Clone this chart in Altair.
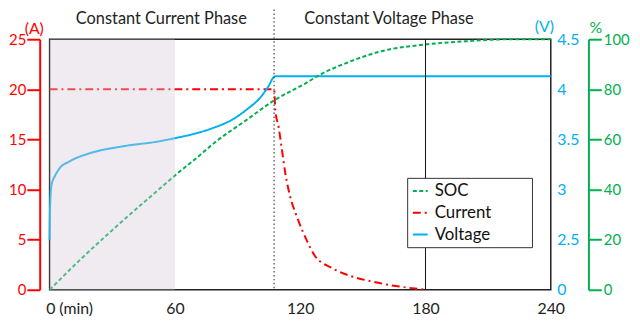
import altair as alt
import pandas as pd

# ---------------- data ----------------
t_current = [0, 107.5, 108.1, 109.7, 111.3, 112.9, 115.2, 118.4, 123.2, 127.0, 135, 143.6, 155, 164, 172, 180]
current = [20, 20, 17.9, 16.2, 13.9, 11.6, 9.3, 7.3, 4.9, 3.4, 2.2, 1.41, 0.8, 0.43, 0.2, 0]

t_voltage = [0, 0.15, 0.4, 0.8, 1.5, 2.4, 4.7, 9.5, 18.9, 34.7, 52.1, 60.6, 70, 79, 86.8, 94.8, 101, 104.5, 108, 240]
voltage = [2.5, 2.75, 2.92, 3.03, 3.09, 3.13, 3.21, 3.28, 3.36, 3.43, 3.48, 3.515, 3.56, 3.62, 3.69, 3.805, 3.92, 4.02, 4.13, 4.13]

t_soc = [0, 15.8, 30, 52.1, 60.6, 69.5, 80.5, 93, 107.4, 123.2, 129, 142.1, 159.4, 180, 200, 222, 240]
soc = [0, 12.9, 23.8, 39.9, 46.0, 52.0, 59.7, 67.0, 75.5, 82.7, 85.6, 90.5, 95.3, 97.9, 99.2, 100, 100]

series = ["SOC", "Current", "Voltage"]
colors = ["#00B050", "#FF0000", "#00B0F0"]
dashes = [[4, 2.5], [8, 4, 2, 4], [1, 0]]

x_ticks = [0, 60, 120, 180, 240]
current_ticks = [0, 5, 10, 15, 20, 25]
voltage_ticks = [2, 2.5, 3, 3.5, 4, 4.5]
soc_ticks = [0, 20, 40, 60, 80, 100]

phase_labels = ["Constant Current Phase", "Constant Voltage Phase"]
phase_label_t = [53.5, 162.5]
cv_start = [107.5]
current_end = [180]
shade_start = [0]
shade_end = [60]

FONT = "Lato"
W, H = 506, 253
PAD = "\u2800" * 3  # blank glyphs that widen the legend box like the reference

# ---------------- tables ----------------
df_c = pd.DataFrame({"t": t_current, "value": current, "series": "Current"})
df_v = pd.DataFrame({"t": t_voltage, "value": voltage, "series": "Voltage"})
df_s = pd.DataFrame({"t": t_soc, "value": soc, "series": "SOC"})
df_shade = pd.DataFrame({"t": shade_start, "t2": shade_end})
df_cv = pd.DataFrame({"t": cv_start})
df_end = pd.DataFrame({"t": current_end})
df_text = pd.DataFrame({"t": phase_label_t, "label": phase_labels})

x_axis = alt.Axis(
    values=x_ticks, title=None, ticks=False, domain=False, grid=False,
    labelFontSize=16, labelColor="#222", labelPadding=11, labelFlush=False,
    labelExpr="datum.value == 0 ? '0 (min)' : datum.label",
    labelAlign={"condition": {"test": "datum.value == 0", "value": "left"}, "value": "center"},
    labelOffset={"condition": {"test": "datum.value == 0", "value": -4}, "value": 0},
)
xscale = alt.Scale(domain=[0, 240], nice=False, zero=False)
X = alt.X("t:Q", scale=xscale, axis=x_axis)

legend = alt.Legend(
    title=None, orient="none", legendX=361, legendY=140,
    symbolType="stroke", symbolSize=225, symbolStrokeWidth=2,
    labelFontSize=17, labelColor="#111", labelOffset=6,
    padding=4.75, rowPadding=4, fillColor="white", strokeColor="#333",
    labelExpr="datum.label + '" + PAD + "'",
)
color = alt.Color("series:N", scale=alt.Scale(domain=series, range=colors), legend=legend)
dash = alt.StrokeDash("series:N", scale=alt.Scale(domain=series, range=dashes), legend=legend)

current_line = alt.Chart(df_c).mark_line(strokeWidth=2, interpolate="monotone").encode(
    x=X,
    y=alt.Y("value:Q", scale=alt.Scale(domain=[0, 25], nice=False),
            axis=alt.Axis(orient="left", offset=10, values=current_ticks, grid=False,
                          domainColor="#FF0000", domainWidth=2, tickColor="#FF0000",
                          tickWidth=2, tickSize=13, labelColor="#FF0000", labelFontSize=15,
                          labelPadding=1, title="(A)", titleAngle=0, titleX=-6, titleY=-11,
                          titleAlign="center", titleBaseline="middle", titleColor="#FF0000",
                          titleFontSize=16, titleFontWeight="normal")),
    color=color, strokeDash=dash,
)

voltage_line = alt.Chart(df_v).mark_line(strokeWidth=2, interpolate="monotone").encode(
    x=X,
    y=alt.Y("value:Q", scale=alt.Scale(domain=[2, 4.5], nice=False, zero=False),
            axis=alt.Axis(orient="right", offset=0, values=voltage_ticks, grid=False,
                          domain=False, ticks=False, labelColor="#00B0F0", labelFontSize=16,
                          labelPadding=6,
                          labelExpr="datum.value == 2 ? '0' : toString(datum.value)",
                          title="(V)", titleAngle=0, titleX=-7, titleY=-13,
                          titleAlign="center", titleBaseline="middle", titleColor="#00B0F0",
                          titleFontSize=16, titleFontWeight="normal")),
    color=color, strokeDash=dash,
)

soc_line = alt.Chart(df_s).mark_line(strokeWidth=2, interpolate="monotone").encode(
    x=X,
    y=alt.Y("value:Q", scale=alt.Scale(domain=[0, 100], nice=False),
            axis=alt.Axis(orient="right", offset=38, values=soc_ticks, grid=False,
                          domainColor="#00B050", domainWidth=2, tickColor="#00B050",
                          tickWidth=2, tickSize=13, labelColor="#00B050", labelFontSize=15,
                          labelPadding=2, title="%", titleAngle=0, titleX=7, titleY=-12,
                          titleAlign="center", titleBaseline="middle", titleColor="#00B050",
                          titleFontSize=16, titleFontWeight="normal")),
    color=color, strokeDash=dash,
)

shade = alt.Chart(df_shade).mark_rect(color="#D5CADA", opacity=0.38).encode(
    x=X, x2="t2:Q", y=alt.value(0), y2=alt.value(H)
)

cv_rule = alt.Chart(df_cv).mark_rule(color="#555", strokeDash=[1.5, 2.5], strokeWidth=1.3).encode(
    x=X, y=alt.value(-30), y2=alt.value(H)
)
end_rule = alt.Chart(df_end).mark_rule(color="#111", strokeWidth=1).encode(
    x=X, y=alt.value(0), y2=alt.value(H)
)

phase_text = alt.Chart(df_text).mark_text(fontSize=16.5, color="#222", baseline="middle").encode(
    x=X, y=alt.value(-20.5), text="label:N"
)

chart = (
    alt.layer(current_line, voltage_line, soc_line, shade, cv_rule, end_rule, phase_text)
    .resolve_scale(y="independent")
    .properties(
        width=W, height=H,
        autosize=alt.AutoSizeParams(type="none"),
        padding={"left": 42, "top": 30, "right": 82, "bottom": 27},
    )
    .configure_view(stroke="#222", strokeWidth=1.5)
    .configure_axis(labelFont=FONT, titleFont=FONT)
    .configure_legend(labelFont=FONT)
    .configure_text(font=FONT)
)

chart.save("out.html", embed_options={"renderer": "svg", "actions": False})
